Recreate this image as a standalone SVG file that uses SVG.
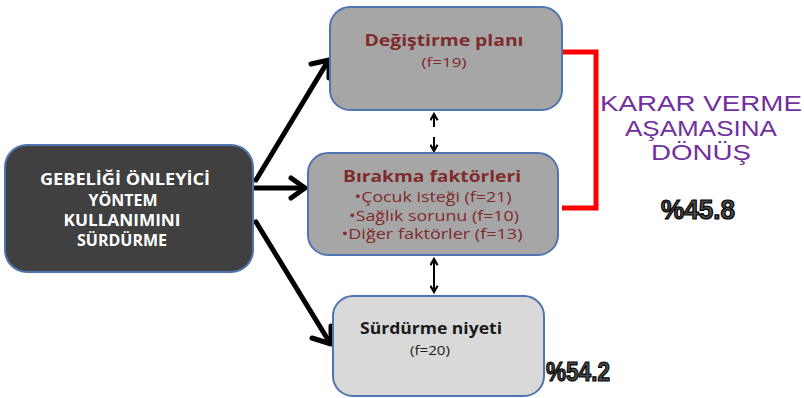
<svg xmlns="http://www.w3.org/2000/svg" width="804" height="398" viewBox="0 0 804 398">
<defs>
<style>
.box{stroke:#4f75b0;stroke-width:2}
.t{font-family:"Open Sans","Liberation Sans",sans-serif;text-anchor:middle}
.red{fill:#7f2b2b}
.conn{stroke:#000;stroke-width:5;fill:none;stroke-linecap:round}
.head{stroke:#000;stroke-width:5;fill:none;stroke-linecap:round;stroke-linejoin:round}
.thin{stroke:#000;stroke-width:2;fill:none}
.pct{font-family:"Liberation Sans",sans-serif;font-weight:bold;fill:#4a4a4a;stroke:#000;stroke-width:1.2}
.purple{font-family:"Liberation Sans",sans-serif;fill:#7030a0;text-anchor:middle;font-size:22px}
</style>
<marker id="ah" viewBox="0 0 10 10" refX="8" refY="5" markerWidth="4.5" markerHeight="4.5" orient="auto-start-reverse">
<path d="M1,1 L8,5 L1,9" fill="none" stroke="#000" stroke-width="2.4"/>
</marker>
</defs>
<rect width="804" height="398" fill="#fff"/>
<g id="connectors">
<path class="conn" d="M256,180 L328,61"/>
<path class="head" d="M311,64 L329,60 L329,78"/>
<path class="conn" d="M255,188 L304,188"/>
<path class="head" d="M291,178 L305,188 L291,198"/>
<path class="conn" d="M256,222 L330,343"/>
<path class="head" d="M312,338 L331,344 L331,326"/>
<line class="thin" x1="434" y1="114" x2="434" y2="127" marker-start="url(#ah)"/>
<line class="thin" x1="434" y1="137" x2="434" y2="151" marker-end="url(#ah)"/>
<line class="thin" x1="434" y1="259" x2="434" y2="292" marker-start="url(#ah)" marker-end="url(#ah)"/>
<path d="M562,52 L596,52 L596,208 L562,208" fill="none" stroke="#ff0000" stroke-width="5"/>
</g>
<g id="n_main">
<rect class="box" x="5" y="145" width="248" height="127" rx="22" fill="#404040"/>
<g class="t" fill="#fff" font-weight="bold" font-size="16">
<text x="125" y="185" textLength="170" lengthAdjust="spacingAndGlyphs">GEBELİĞİ ÖNLEYİCİ</text>
<text x="123" y="206" textLength="69" lengthAdjust="spacingAndGlyphs">YÖNTEM</text>
<text x="122" y="226" textLength="117" lengthAdjust="spacingAndGlyphs">KULLANIMINI</text>
<text x="122" y="246" textLength="90" lengthAdjust="spacingAndGlyphs">SÜRDÜRME</text>
</g>
</g>
<g id="n_plan">
<rect class="box" x="330" y="7" width="232" height="103" rx="20" fill="#a6a6a6"/>
<text class="t red" x="444" y="46" font-size="16" font-weight="bold" textLength="159" lengthAdjust="spacingAndGlyphs">Değiştirme planı</text>
<text class="t red" x="444" y="67" font-size="13" textLength="45" lengthAdjust="spacingAndGlyphs">(f=19)</text>
</g>
<g id="n_birakma">
<rect class="box" x="308" y="153" width="250" height="102" rx="20" fill="#a6a6a6"/>
<text class="t red" x="432" y="182" font-size="16" font-weight="bold" textLength="178" lengthAdjust="spacingAndGlyphs">Bırakma faktörleri</text>
<text class="t red" x="433" y="202" font-size="15" textLength="157" lengthAdjust="spacingAndGlyphs">•Çocuk isteği (f=21)</text>
<text class="t red" x="434" y="221" font-size="15" textLength="170" lengthAdjust="spacingAndGlyphs">•Sağlık sorunu (f=10)</text>
<text class="t red" x="432" y="239" font-size="15" textLength="181" lengthAdjust="spacingAndGlyphs">•Diğer faktörler (f=13)</text>
</g>
<g id="n_niyet">
<rect class="box" x="333" y="296" width="211" height="100" rx="20" fill="#d9d9d9"/>
<text class="t" x="431" y="334" font-size="16" font-weight="bold" fill="#1a1a1a" textLength="142" lengthAdjust="spacingAndGlyphs">Sürdürme niyeti</text>
<text class="t" x="430" y="355" font-size="13" fill="#1a1a1a" textLength="40" lengthAdjust="spacingAndGlyphs">(f=20)</text>
</g>
<g id="labels">
<text class="purple" x="701" y="111" textLength="202" lengthAdjust="spacingAndGlyphs">KARAR VERME</text>
<text class="purple" x="701" y="136" textLength="152" lengthAdjust="spacingAndGlyphs">AŞAMASINA</text>
<text class="purple" x="701" y="160" textLength="100" lengthAdjust="spacingAndGlyphs">DÖNÜŞ</text>
<text class="pct" x="661" y="219" font-size="27" textLength="74" lengthAdjust="spacingAndGlyphs">%45.8</text>
<text class="pct" x="546" y="381" font-size="27" textLength="64" lengthAdjust="spacingAndGlyphs">%54.2</text>
</g>
</svg>
